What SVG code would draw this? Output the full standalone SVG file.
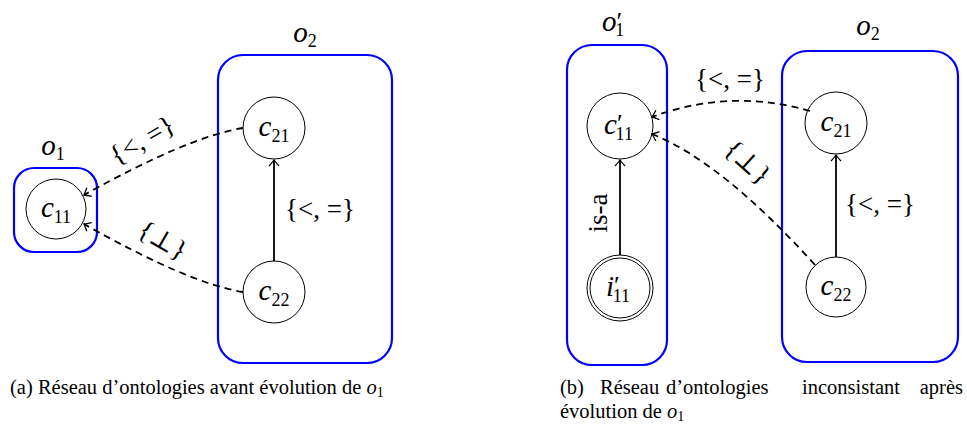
<svg xmlns="http://www.w3.org/2000/svg" width="967" height="425" viewBox="0 0 967 425">
<style>
.box{fill:none;stroke:#0000ff;stroke-width:2.2}
.node{fill:#fff;stroke:#000;stroke-width:1}
.t{font-family:"Liberation Serif","DejaVu Serif",serif;fill:#000}
.m{font-size:29px;font-style:italic}
.s{font-size:18px;font-style:normal}
.p{font-size:26px;font-style:normal}
.lab{font-size:27px}
.cap{font-size:20.5px}
.solid{fill:none;stroke:#000;stroke-width:1.8}
.dash{fill:none;stroke:#000;stroke-width:1.8;stroke-dasharray:7 5}
</style>
<defs>
<marker id="arr" markerUnits="userSpaceOnUse" markerWidth="14" markerHeight="14" viewBox="-8 -7 10 14" refX="0" refY="0" orient="auto">
<path d="M-6,-5 Q-1.5,-1 0,0 Q-1.5,1 -6,5" fill="none" stroke="#000" stroke-width="1.3"/>
</marker>
</defs>
<rect width="967" height="425" fill="#fff"/>

<!-- Panel (a) -->
<g id="o1">
<rect class="box" x="14" y="168" width="83" height="84" rx="20"/>
<text class="t" x="53" y="155" text-anchor="middle"><tspan class="m">o</tspan><tspan class="s" dy="5">1</tspan></text>
</g>
<g id="o2a">
<rect class="box" x="218" y="55" width="174" height="308" rx="25"/>
<text class="t" x="305" y="42" text-anchor="middle"><tspan class="m">o</tspan><tspan class="s" dy="5">2</tspan></text>
</g>
<g id="c11">
<circle class="node" cx="56" cy="209" r="30"/>
<text class="t" x="56" y="217" text-anchor="middle"><tspan class="m">c</tspan><tspan class="s" dy="6">11</tspan></text>
</g>
<g id="c21a">
<circle class="node" cx="274" cy="128" r="31"/>
<text class="t" x="274" y="136" text-anchor="middle"><tspan class="m">c</tspan><tspan class="s" dy="6">21</tspan></text>
</g>
<g id="c22a">
<circle class="node" cx="274" cy="292" r="31"/>
<text class="t" x="274" y="300" text-anchor="middle"><tspan class="m">c</tspan><tspan class="s" dy="6">22</tspan></text>
</g>

<!-- Panel (b) -->
<g id="o1p">
<rect class="box" x="567" y="45" width="100" height="320" rx="25"/>
<text class="t" x="602" y="31"><tspan class="m">o</tspan><tspan class="p" dx="0" dy="-1">′</tspan><tspan class="s" dx="-7" dy="6">1</tspan></text>
</g>
<g id="o2b">
<rect class="box" x="782" y="51" width="176" height="311" rx="25"/>
<text class="t" x="868" y="35" text-anchor="middle"><tspan class="m">o</tspan><tspan class="s" dy="5">2</tspan></text>
</g>
<g id="c11p">
<circle class="node" cx="620" cy="126" r="33"/>
<text class="t" x="604" y="134"><tspan class="m">c</tspan><tspan class="p" dy="-2">′</tspan><tspan class="s" dx="-7" dy="8">11</tspan></text>
</g>
<g id="i11p">
<circle class="node" cx="620" cy="288" r="33"/>
<circle class="node" cx="620" cy="288" r="30"/>
<text class="t" x="606" y="296"><tspan class="m">i</tspan><tspan class="p" dy="-2">′</tspan><tspan class="s" dx="-7" dy="8">11</tspan></text>
</g>
<g id="c21b">
<circle class="node" cx="836" cy="123" r="31"/>
<text class="t" x="836" y="131" text-anchor="middle"><tspan class="m">c</tspan><tspan class="s" dy="6">21</tspan></text>
</g>
<g id="c22b">
<circle class="node" cx="836" cy="287" r="30"/>
<text class="t" x="836" y="295" text-anchor="middle"><tspan class="m">c</tspan><tspan class="s" dy="6">22</tspan></text>
</g>

<!-- Connectors -->
<g id="connectors">
<line class="solid" x1="274" y1="261" x2="274" y2="160" marker-end="url(#arr)"/>
<path class="dash" d="M243,128 Q188,137 84,195" marker-end="url(#arr)"/>
<path class="dash" d="M243,292 Q188,283 84,224" marker-end="url(#arr)"/>
<text class="t lab" x="320" y="218" text-anchor="middle">{&lt;, =}</text>
<text class="t lab" x="142" y="149" text-anchor="middle" transform="rotate(-30 142 140)">{&lt;, =}</text>
<text class="t lab" x="163" y="249" text-anchor="middle" transform="rotate(30 163 240)">{⊥}</text>

<line class="solid" x1="620" y1="255" x2="620" y2="160" marker-end="url(#arr)"/>
<text class="t lab" x="0" y="0" text-anchor="middle" transform="translate(607 213) rotate(-90)">is-a</text>
<line class="solid" x1="836" y1="257" x2="836" y2="155" marker-end="url(#arr)"/>
<path class="dash" d="M810,111 Q730,88 652,117" marker-end="url(#arr)"/>
<path class="dash" d="M815,265 Q722,162 652,134" marker-end="url(#arr)"/>
<text class="t lab" x="880" y="213" text-anchor="middle">{&lt;, =}</text>
<text class="t lab" x="730" y="88" text-anchor="middle">{&lt;, =}</text>
<text class="t lab" x="748" y="171" text-anchor="middle" transform="rotate(42 748 162)">{⊥}</text>
</g>

<!-- Captions -->
<text class="t cap" x="10" y="394">(a) Réseau d’ontologies avant évolution de <tspan font-style="italic">o</tspan><tspan font-size="14" dy="3">1</tspan></text>
<text class="t cap" x="560" y="394">(b)</text>
<text class="t cap" x="600" y="394">Réseau</text>
<text class="t cap" x="666" y="394">d’ontologies</text>
<text class="t cap" x="802" y="394">inconsistant</text>
<text class="t cap" x="963" y="394" text-anchor="end">après</text>
<text class="t cap" x="560" y="418">évolution de <tspan font-style="italic">o</tspan><tspan font-size="14" dy="3">1</tspan></text>
</svg>
